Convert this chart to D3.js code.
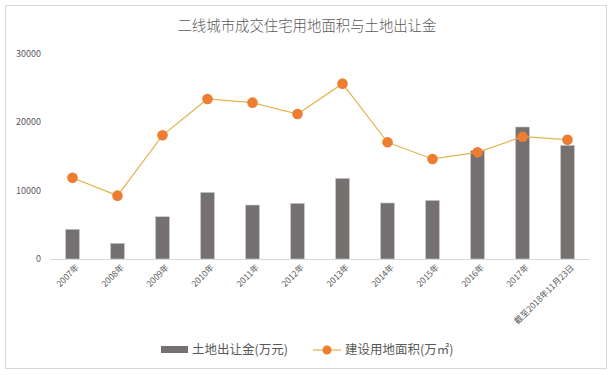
<!DOCTYPE html>
<html>
<head>
<meta charset="utf-8">
<script src="https://cdn.jsdelivr.net/npm/d3@7"></script>
<style>
  body { margin: 0; background: #fff; }
  text { font-family: "Noto Sans CJK SC", "Noto Sans", sans-serif; fill: #595959; }
</style>
</head>
<body>
<svg id="chart" width="613" height="375"></svg>
<script>
// categories and series
var categories = ["2007年", "2008年", "2009年", "2010年", "2011年", "2012年",
                  "2013年", "2014年", "2015年", "2016年", "2017年", "截至2018年11月23日"];
var landRevenue = [4350, 2300, 6190, 9760, 7900, 8150, 11810, 8200, 8590, 15850, 19320, 16640];
var landArea = [11900, 9270, 18100, 23420, 22880, 21220, 25660, 17080, 14640, 15610, 17900, 17460];
var yTicks = [0, 10000, 20000, 30000];

var svg = d3.select("svg#chart"),
    width = +svg.attr("width"),
    height = +svg.attr("height");

//outer frame
svg.append("rect")
    .attr("x", 5.5).attr("y", 5.5)
    .attr("width", 601).attr("height", 363)
    .attr("fill", "#fff")
    .attr("stroke", "#d9d9d9");

//title
svg.append("text")
    .attr("x", 307).attr("y", 26)
    .attr("dy", "0.35em")
    .attr("text-anchor", "middle")
    .style("font-size", "14.4px")
    .style("font-weight", 300)
    .text("二线城市成交住宅用地面积与土地出让金");

var x = d3.scaleBand()
    .domain(categories)
    .range([50, 590])
    .paddingInner(0.69)
    .paddingOuter(0.345);

var y = d3.scaleLinear()
    .domain([0, 30000])
    .range([259, 54]);

//y tick labels (no axis line)
svg.append("g")
    .selectAll("text")
    .data(yTicks)
    .enter().append("text")
    .attr("x", 41)
    .attr("y", function(d) { return y(d); })
    .attr("dy", "0.35em")
    .attr("text-anchor", "end")
    .style("font-size", "9px")
    .text(function(d) { return d; });

//bars
svg.append("g")
    .selectAll("rect")
    .data(landRevenue)
    .enter().append("rect")
    .attr("x", function(d, i) { return x(categories[i]); })
    .attr("y", function(d) { return y(d); })
    .attr("width", x.bandwidth())
    .attr("height", function(d) { return y(0) - y(d); })
    .attr("fill", "#767171")
    .attr("stroke", "#d0cece")
    .attr("stroke-width", 0.6);

//x axis line
svg.append("line")
    .attr("x1", 50).attr("x2", 590)
    .attr("y1", y(0) + 0.5).attr("y2", y(0) + 0.5)
    .attr("stroke", "#d9d9d9");

//x labels rotated
var cx = function(i) { return x(categories[i]) + x.bandwidth() / 2; };

svg.append("g")
    .selectAll("text")
    .data(categories)
    .enter().append("text")
    .attr("transform", function(d, i) { return "translate(" + (cx(i) + 5) + "," + 266 + ") rotate(-45)"; })
    .attr("text-anchor", "end")
    .attr("dy", "0.35em")
    .style("font-size", "8.5px")
    .text(function(d) { return d; });

//line + markers
var line = d3.line()
    .x(function(d, i) { return cx(i); })
    .y(function(d) { return y(d); });

svg.append("path")
    .datum(landArea)
    .attr("d", line)
    .attr("fill", "none")
    .attr("stroke", "#E2B54E")
    .attr("stroke-width", 1.2);

svg.append("g")
    .selectAll("circle")
    .data(landArea)
    .enter().append("circle")
    .attr("cx", function(d, i) { return cx(i); })
    .attr("cy", function(d) { return y(d); })
    .attr("r", 5.3)
    .attr("fill", "#ED7D31");

//legend
var legend = svg.append("g");
legend.append("rect")
    .attr("x", 161).attr("y", 346)
    .attr("width", 27).attr("height", 7)
    .attr("fill", "#767171");
legend.append("text")
    .attr("x", 192).attr("y", 350)
    .attr("dy", "0.35em")
    .style("font-size", "12.5px")
    .text("土地出让金(万元)");
legend.append("line")
    .attr("x1", 313).attr("x2", 341)
    .attr("y1", 350).attr("y2", 350)
    .attr("stroke", "#E2B54E")
    .attr("stroke-width", 1.2);
legend.append("circle")
    .attr("cx", 327).attr("cy", 350)
    .attr("r", 4.5)
    .attr("fill", "#ED7D31");
legend.append("text")
    .attr("x", 345).attr("y", 350)
    .attr("dy", "0.35em")
    .style("font-size", "12.5px")
    .text("建设用地面积(万㎡)");
</script>
</body>
</html>
